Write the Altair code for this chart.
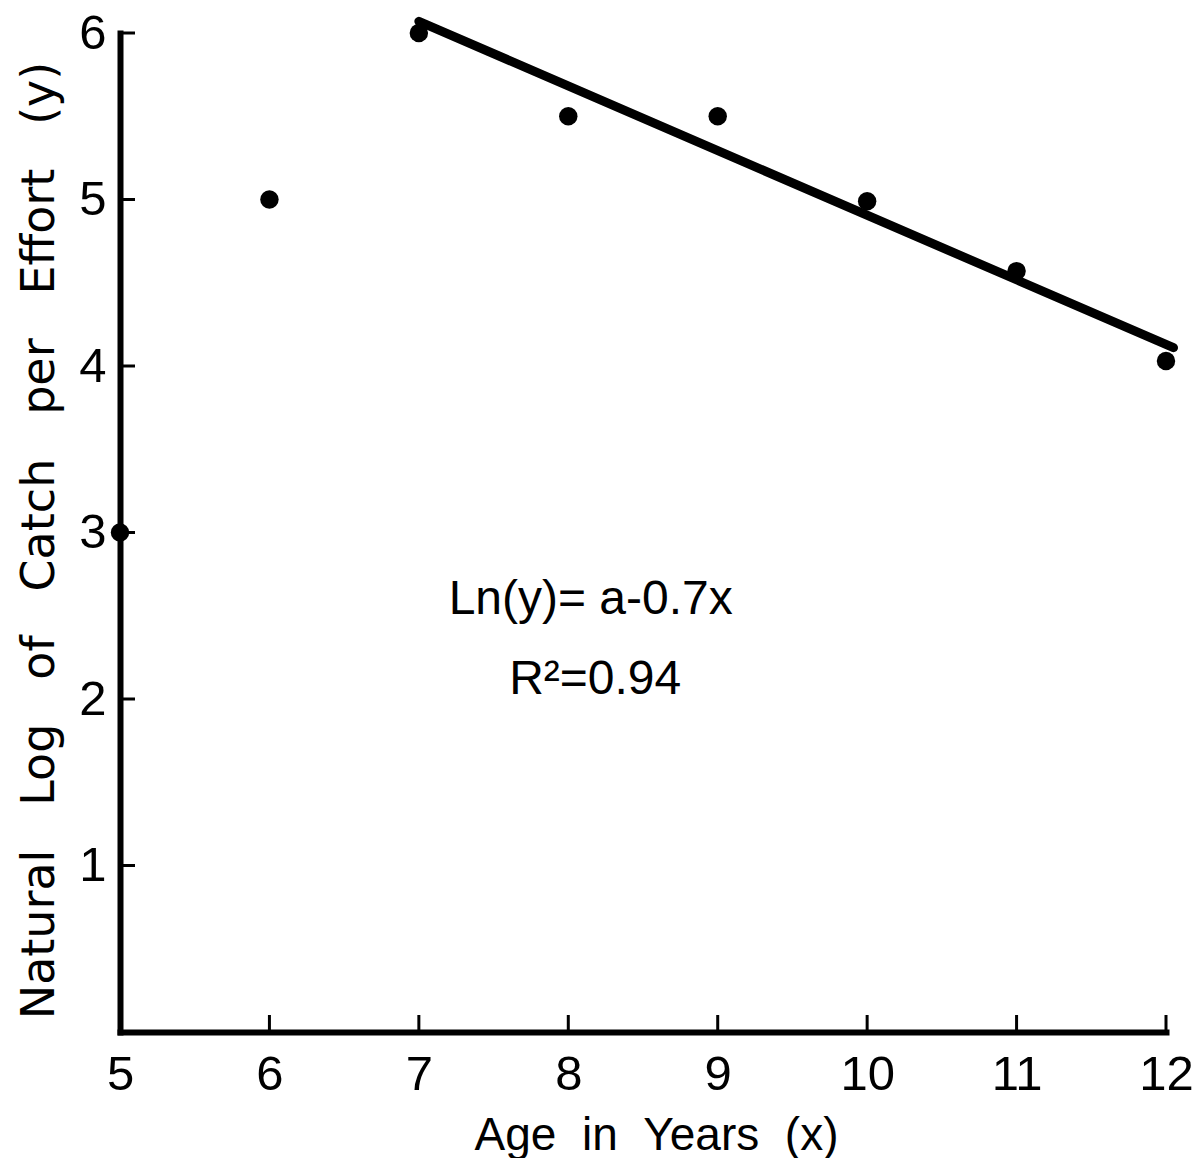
import altair as alt
import pandas as pd

# ---- data ----
age = [5, 6, 7, 8, 9, 10, 11, 12]
log_cpue = [3.0, 5.0, 6.0, 5.5, 5.5, 4.99, 4.57, 4.03]

fit_age = [7.0, 12.05]
fit_log = [6.07, 4.11]

x_tick_values = [5, 6, 7, 8, 9, 10, 11, 12]
y_tick_values = [1, 2, 3, 4, 5, 6]
x_inner_ticks = [6, 7, 8, 9, 10, 11, 12]
y_inner_ticks = [1, 2, 3, 4, 5, 6]

notes = ["Ln(y)= a-0.7x", "R\u00b2=0.94"]
note_x = [8.15, 8.18]
note_y = [2.51, 2.03]

x_title_words = ["Age", "in", "Years", "(x)"]
y_title_words = ["Natural", "Log", "of", "Catch", "per", "Effort", "(y)"]

# ---- tables ----
pts = pd.DataFrame({"age": age, "lny": log_cpue})
fit = pd.DataFrame({"age": fit_age, "lny": fit_log})
xt = pd.DataFrame({"t": x_inner_ticks})
yt = pd.DataFrame({"t": y_inner_ticks})
nt = pd.DataFrame({"age": note_x, "lny": note_y, "label": notes})

W, H = 1046, 999
FONT = "Liberation Sans"
xs = alt.Scale(domain=[5, 12], nice=False, zero=False)
ys = alt.Scale(domain=[0, 6], nice=False, zero=False)

x_title = "\u00a0\u00a0".join(x_title_words)
y_title = "\u00a0\u00a0\u00a0".join(y_title_words)

x_axis = alt.Axis(
    values=x_tick_values, format="d", title=x_title, tickSize=0, labelPadding=18,
    labelFontSize=49, labelFont=FONT, labelColor="black",
    labelOverlap=False, labelFlush=False, labelBound=False,
    domainColor="black", domainWidth=6, domainCap="square",
    grid=False, titleFont=FONT, titleFontSize=46, titleFontWeight="normal",
    titleColor="black", titlePadding=14, titleX=536, titleAlign="center",
)
y_axis = alt.Axis(
    values=y_tick_values, format="d", title=y_title, tickSize=0, labelPadding=14,
    labelFontSize=49, labelFont=FONT, labelColor="black",
    labelOverlap=False, labelFlush=False, labelBound=False,
    domainColor="black", domainWidth=6, domainCap="square",
    grid=False, titleFont="DejaVu Sans", titleFontSize=46, titleFontWeight="normal",
    titleColor="black", titlePadding=15, titleY=507, titleAlign="center",
)

points = alt.Chart(pts).mark_circle(size=340, color="black", opacity=1, clip=False).encode(
    x=alt.X("age:Q", scale=xs, axis=x_axis),
    y=alt.Y("lny:Q", scale=ys, axis=y_axis),
)

line = alt.Chart(fit).mark_line(color="black", strokeWidth=9, strokeCap="round", clip=False).encode(
    x=alt.X("age:Q", scale=xs),
    y=alt.Y("lny:Q", scale=ys),
)

xticks = alt.Chart(xt).mark_rule(color="black", strokeWidth=3).encode(
    x=alt.X("t:Q", scale=xs),
    y=alt.value(H),
    y2=alt.value(H - 17),
)

yticks = alt.Chart(yt).mark_rule(color="black", strokeWidth=3).encode(
    y=alt.Y("t:Q", scale=ys),
    x=alt.value(0),
    x2=alt.value(15),
)

notes_layer = alt.Chart(nt).mark_text(
    font=FONT, fontSize=48, color="black", align="center", baseline="alphabetic"
).encode(
    x=alt.X("age:Q", scale=xs),
    y=alt.Y("lny:Q", scale=ys),
    text="label:N",
)

chart = (
    alt.layer(points, line, xticks, yticks, notes_layer)
    .properties(
        width=W, height=H,
        autosize=alt.AutoSizeParams(type="none"),
        padding={"left": 112, "top": 25, "right": 28, "bottom": 126},
        background="white",
    )
    .configure_view(stroke=None)
)

chart.save("out.html", embed_options={"renderer": "svg", "actions": False})
